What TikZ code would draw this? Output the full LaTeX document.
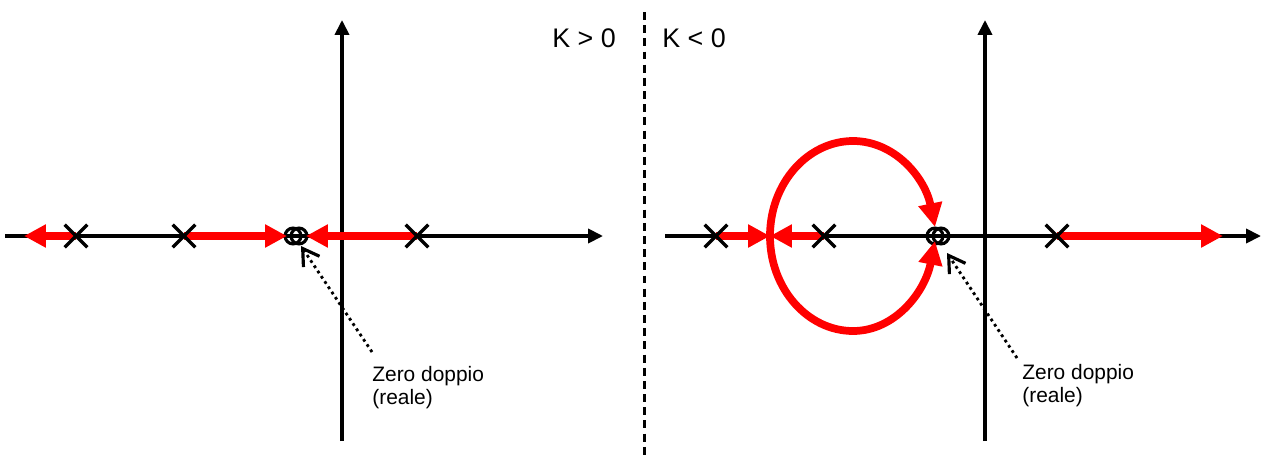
\documentclass[tikz,border=0pt]{standalone}
\usepackage{fontspec}
\setmainfont{Liberation Sans}
\usetikzlibrary{arrows.meta,shapes.misc}

\begin{document}
\begin{tikzpicture}[x=0.02cm,y=-0.02cm,>=Latex,
  asse/.style={line width=2pt,-{Triangle[length=8.5pt,width=8pt]}},
  ramo/.style={red,line width=4.5pt,-{Triangle[length=12.5pt,width=12.5pt]}},
  curva/.style={red,line width=4.4pt,-{Triangle[length=13.5pt,width=13pt]}},
  polo/.style={cross out,draw=black,line width=1.9pt,minimum size=11pt,inner sep=0pt},
  zero/.style={circle,draw=black,line width=1.8pt,minimum size=9pt,inner sep=0pt},
  nota/.style={dotted,line width=1.6pt,-{Straight Barb[length=9pt,width=11pt,line width=1.8pt]}},
  segno/.style={font=\fontsize{15.3}{18}\selectfont,inner sep=0pt},
  testo/.style={font=\fontsize{11.9}{13}\selectfont,align=left,anchor=north west,inner sep=0pt}]
\useasboundingbox (0,0) rectangle (1261,460);

\coordinate (sx0) at (5,236);
\coordinate (sx1) at (603,236);
\coordinate (sy0) at (342,441);
\coordinate (sy1) at (342,20);
\coordinate (dx0) at (665,236);
\coordinate (dx1) at (1261,236);
\coordinate (dy0) at (985,441);
\coordinate (dy1) at (985,20);
\coordinate (m0) at (644,12);
\coordinate (m1) at (644,460);

\coordinate (sa) at (76,236);
\coordinate (sb) at (184,236);
\coordinate (sc) at (417,236);
\coordinate (da) at (716,236);
\coordinate (db) at (824,236);
\coordinate (dc) at (1057,236);

\coordinate (se1) at (24,236);
\coordinate (se2) at (287,236);
\coordinate (se3) at (306,236);
\coordinate (de1) at (770,236);
\coordinate (de3) at (1223,236);
\coordinate (dt) at (935,227);
\coordinate (dd) at (935,241);

\draw[asse] (sx0)--(sx1);
\draw[asse] (sy0)--(sy1);
\draw[asse] (dx0)--(dx1);
\draw[asse] (dy0)--(dy1);
\draw[dashed,dash pattern=on 4.5pt off 3pt,line width=1.7pt] (m0)--(m1);

\node[zero] (sz1) at (293,236) {};
\node[zero] (sz2) at (299,236) {};
\node[zero] (dz1) at (935,236) {};
\node[zero] (dz2) at (941,236) {};

\draw[ramo] (sa)--(se1);
\draw[ramo] (sb)--(se2);
\draw[ramo] (sc)--(se3);
\draw[ramo] (da)--(de1);
\draw[ramo] (db)--(de1);
\draw[ramo] (dc)--(de3);
\draw[curva] (de1) .. controls (770,183) and (808,141) .. (853,141) .. controls (895,141) and (925,178) .. (dt);
\draw[curva] (de1) .. controls (770,289) and (808,331) .. (853,331) .. controls (895,331) and (925,292) .. (dd);

\node[polo] (pa) at (sa) {};
\node[polo] (pb) at (sb) {};
\node[polo] (pc) at (sc) {};
\node[polo] (qa) at (da) {};
\node[polo] (qb) at (db) {};
\node[polo] (qc) at (dc) {};

\node[segno] (kp) at (584,38) {K > 0};
\node[segno] (kn) at (694,38) {K < 0};
\node[testo] (ts) at (372,366) {Zero doppio\\(reale)};
\node[testo] (td) at (1022,364) {Zero doppio\\(reale)};
\coordinate (sn) at (372,352);
\coordinate (st) at (301,246);
\coordinate (dn) at (1017,358);
\coordinate (dp) at (947,253);
\draw[nota] (sn)--(st);
\draw[nota] (dn)--(dp);
\end{tikzpicture}
\end{document}
